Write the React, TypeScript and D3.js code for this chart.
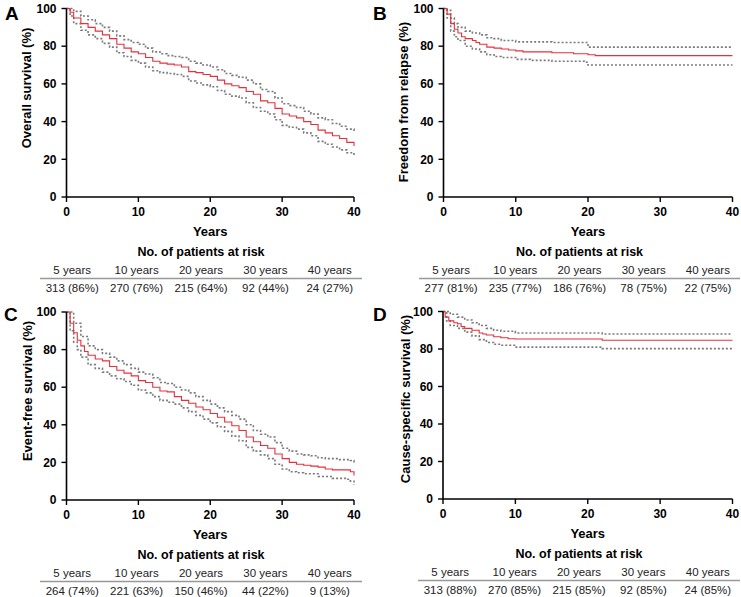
import React from "react";
import { scaleLinear, line, curveStepAfter } from "d3";

type Pt = [number, number];

const xTicks = [0, 10, 20, 30, 40];
const yTicks = [0, 20, 40, 60, 80, 100];
const riskYears = ["5 years", "10 years", "20 years", "30 years", "40 years"];

// overall survival: estimate + 95% CI
const overallEst: Pt[] = [
  [0, 100], [0.5, 98], [1, 95], [2, 92], [3, 90], [4, 88], [5, 86], [6, 84], [7, 81], [8, 79],
  [9, 77], [10, 76], [11, 74], [12, 72], [13, 71], [14, 70.5], [15, 70], [16, 69], [17, 66.5],
  [18, 66], [19, 65], [20, 64], [21, 62], [22, 60], [23, 59], [24, 58], [25, 56], [26, 54.5],
  [27, 51], [28, 50], [29, 47], [30, 44], [31, 43], [32, 42], [33, 40], [34, 38.5], [35, 35.5],
  [36, 34], [37, 32.5], [38, 31], [39, 29], [40, 27],
];
const overallUpper: Pt[] = [
  [0, 100], [1, 98.5], [2, 96], [3, 94], [4, 92], [5, 90], [6, 88], [7, 85.5], [8, 83.5], [9, 82],
  [10, 81], [11, 79], [12, 77], [13, 76], [14, 75], [15, 74.5], [16, 74], [17, 72], [18, 71],
  [19, 70], [20, 69], [21, 67.5], [22, 65.5], [23, 64.5], [24, 63.5], [25, 62], [26, 60], [27, 57],
  [28, 56], [29, 52.5], [30, 49.5], [31, 48.5], [32, 47.5], [33, 45.5], [34, 44], [35, 42],
  [36, 41], [37, 39], [38, 37.5], [39, 36], [40, 35],
];
const overallLower: Pt[] = [
  [0, 100], [0.5, 96], [1, 92], [2, 88.5], [3, 86], [4, 84], [5, 81.5], [6, 79.5], [7, 76.5],
  [8, 74.5], [9, 72.5], [10, 71], [11, 69], [12, 67], [13, 66], [14, 65.5], [15, 65], [16, 64],
  [17, 61.5], [18, 60.5], [19, 59.5], [20, 58.5], [21, 56.5], [22, 54.5], [23, 53.5], [24, 52.5],
  [25, 50], [26, 47.5], [27, 45.5], [28, 44], [29, 41], [30, 38], [31, 37], [32, 36], [33, 34],
  [34, 32.5], [35, 29.5], [36, 28], [37, 26.5], [38, 25], [39, 23.5], [40, 22],
];

// freedom from relapse
const relapseEst: Pt[] = [
  [0, 100], [0.5, 97], [1, 92], [1.5, 89], [2, 87], [2.5, 85], [3, 84], [4, 83], [4.5, 82],
  [5, 81], [6, 79.5], [7, 79], [8, 78.5], [9, 78], [10, 77.5], [11, 77], [15, 76.5], [18, 76],
  [20, 75.5], [21, 75], [40, 75],
];
const relapseUpper: Pt[] = [
  [0, 100], [0.5, 99], [1, 95], [1.5, 92], [2, 90], [3, 88], [4, 87], [5, 86], [6, 84.5],
  [7, 84], [8, 83], [10, 82.3], [15, 82], [19.5, 82], [20, 79.5], [40, 79.5],
];
const relapseLower: Pt[] = [
  [0, 100], [0.5, 95], [1, 88], [1.5, 85], [2, 83], [3, 80], [4, 78.5], [5, 77], [6, 75.5],
  [7, 74.5], [8, 74], [10, 73], [12, 72.5], [15, 72], [19.5, 71.5], [20, 70], [40, 70],
];

// event-free survival
const eventEst: Pt[] = [
  [0, 100], [0.5, 94], [1, 89], [1.5, 85], [2, 82], [2.5, 79], [3, 77], [4, 75], [5, 74],
  [6, 71], [7, 69], [8, 67.5], [9, 66], [10, 63.5], [11, 62.5], [12, 60], [13, 58], [14, 57.5],
  [15, 55], [16, 53], [17, 51.5], [18, 49.5], [19, 48], [20, 46], [21, 44], [22, 41.5],
  [23, 39.5], [24, 37], [25, 33.5], [26, 31], [27, 29], [28, 27.5], [29, 24.5], [30, 22],
  [31, 20], [32, 19], [33, 18.5], [34, 18], [35, 17.5], [36, 16.5], [37, 16], [39, 16],
  [39.5, 15], [40, 13],
];
const eventUpper: Pt[] = [
  [0, 100], [1, 94], [2, 87], [3, 82], [4, 80], [5, 78], [6, 76], [7, 74], [8, 72], [9, 70],
  [10, 68], [11, 67], [12, 65], [13, 62.5], [14, 62], [15, 60], [16, 58.5], [17, 57], [18, 55],
  [19, 53], [20, 51], [21, 49], [22, 47], [23, 45], [24, 43], [25, 40], [26, 37], [27, 35],
  [28, 33.5], [29, 30.5], [30, 27.5], [31, 26], [32, 24.5], [33, 24], [34, 23.5], [35, 22.5],
  [36, 22], [38, 21.5], [39.5, 21], [40, 20],
];
const eventLower: Pt[] = [
  [0, 100], [0.5, 90], [1, 84], [1.5, 80], [2, 76], [3, 72], [4, 70], [5, 68], [6, 66], [7, 64.5],
  [8, 63], [9, 61], [10, 58.5], [11, 57], [12, 55], [13, 53], [14, 52], [15, 51], [16, 49],
  [17, 47], [18, 45], [19, 43], [20, 41], [21, 39], [22, 36.5], [23, 34], [24, 31.5], [25, 28],
  [26, 26], [27, 24], [28, 22], [29, 19], [30, 16.5], [31, 15], [32, 14.5], [33, 14], [35, 12.5],
  [37, 11.5], [39, 11], [39.5, 10], [40, 8],
];

// cause-specific survival
const causeEst: Pt[] = [
  [0, 100], [0.3, 97], [0.8, 95], [1.5, 94], [2, 93.5], [2.5, 92], [3, 91], [4, 90], [5, 88.5],
  [5.5, 88], [6, 87.5], [7, 86.5], [8, 86], [9, 85.5], [10, 85.3], [22, 84.7], [40, 84.7],
];
const causeUpper: Pt[] = [
  [0, 100], [1, 98.5], [2, 97], [3, 95.5], [4, 94], [5, 92.5], [6, 91], [7, 90], [8, 89.5],
  [10, 88.5], [22, 88], [40, 88],
];
const causeLower: Pt[] = [
  [0, 100], [0.5, 95], [1, 92.5], [2, 91], [3, 89], [4, 87], [5, 85], [6, 83.5], [7, 82.5],
  [8, 82], [10, 81], [22, 80.2], [40, 80.2],
];

const overallRisk = ["313 (86%)", "270 (76%)", "215 (64%)", "92 (44%)", "24 (27%)"];
const relapseRisk = ["277 (81%)", "235 (77%)", "186 (76%)", "78 (75%)", "22 (75%)"];
const eventRisk = ["264 (74%)", "221 (63%)", "150 (46%)", "44 (22%)", "9 (13%)"];
const causeRisk = ["313 (88%)", "270 (85%)", "215 (85%)", "92 (85%)", "24 (85%)"];

const font = "'Liberation Sans', Arial, Helvetica, sans-serif";

interface PanelProps {
  letter: string;
  yLabel: string;
  est: Pt[];
  upper: Pt[];
  lower: Pt[];
  risk: string[];
  x0: number;
  x1: number;
  top: number;
  bottom: number;
  labelX: number;
  labelY: number;
  letterX: number;
  letterY: number;
  tableLeft: number;
  tableRight: number;
}

const Panel: React.FC<PanelProps> = ({
  letter, yLabel, est, upper, lower, risk,
  x0, x1, top, bottom, labelX, labelY, letterX, letterY, tableLeft, tableRight,
}) => {
  const xScale = scaleLinear().domain([0, 40]).range([x0, x1]);
  const yScale = scaleLinear().domain([0, 100]).range([bottom, top]);

  const path = line<Pt>()
    .x((d) => xScale(d[0]))
    .y((d) => yScale(d[1]))
    .curve(curveStepAfter);

  const colW = (tableRight - tableLeft) / riskYears.length;
  const midX = (x0 + x1) / 2;
  const tableMid = (tableLeft + tableRight) / 2;

  return (
    <g fontFamily={font}>
      <text x={letterX} y={letterY} fontSize={19} fontWeight="bold">{letter}</text>

      {/* confidence band first, estimate on top */}
      <path d={path(upper) ?? ""} fill="none" stroke="#7a7a7a" strokeWidth={1.6} strokeDasharray="2,2" />
      <path d={path(lower) ?? ""} fill="none" stroke="#7a7a7a" strokeWidth={1.6} strokeDasharray="2,2" />
      <path d={path(est) ?? ""} fill="none" stroke="#e6303c" strokeWidth={1.1} />

      {/* y axis */}
      <line x1={x0} x2={x0} y1={top} y2={bottom} stroke="#000" strokeWidth={1.6} />
      {yTicks.map((t) => (
        <g key={`y${t}`}>
          <line x1={x0 - 5} x2={x0} y1={yScale(t)} y2={yScale(t)} stroke="#000" strokeWidth={1.4} />
          <text x={x0 - 10} y={yScale(t)} dy="0.35em" textAnchor="end" fontSize={12} fontWeight="bold">{t}</text>
        </g>
      ))}
      <text
        transform={`translate(${labelX},${labelY}) rotate(-90)`}
        dy="0.35em"
        textAnchor="middle"
        fontSize={13}
        fontWeight="bold"
      >
        {yLabel}
      </text>

      {/* x axis */}
      <line x1={x0} x2={x1} y1={bottom} y2={bottom} stroke="#000" strokeWidth={1.6} />
      {xTicks.map((t) => (
        <g key={`x${t}`}>
          <line x1={xScale(t)} x2={xScale(t)} y1={bottom} y2={bottom + 5} stroke="#000" strokeWidth={1.4} />
          <text x={xScale(t)} y={bottom + 19} textAnchor="middle" fontSize={12} fontWeight="bold">{t}</text>
        </g>
      ))}
      <text x={midX} y={bottom + 39} textAnchor="middle" fontSize={13} fontWeight="bold">Years</text>

      {/* patients at risk */}
      <text x={tableMid} y={bottom + 58.5} textAnchor="middle" fontSize={12.5} fontWeight="bold">
        No. of patients at risk
      </text>
      {riskYears.map((lab, i) => (
        <text key={lab} x={tableLeft + colW * (i + 0.5)} y={bottom + 77} textAnchor="middle" fontSize={11.5} fill="#222">
          {lab}
        </text>
      ))}
      <line x1={tableLeft} x2={tableRight} y1={bottom + 81.5} y2={bottom + 81.5} stroke="#999" strokeWidth={1.4} />
      {risk.map((v, i) => (
        <text key={`r${i}`} x={tableLeft + colW * (i + 0.5)} y={bottom + 94.5} textAnchor="middle" fontSize={11.5} fill="#222">
          {v}
        </text>
      ))}
    </g>
  );
};

const App: React.FC = () => {
  return (
    <svg width={741} height={597} style={{ position: "absolute", left: 0, top: 0, background: "#fff" }}>
      <Panel letter="A" yLabel="Overall survival (%)" est={overallEst} upper={overallUpper} lower={overallLower}
        risk={overallRisk} x0={66.5} x1={354} top={8.5} bottom={197} labelX={26} labelY={88}
        letterX={5} letterY={20} tableLeft={40} tableRight={362} />
      <Panel letter="B" yLabel="Freedom from relapse (%)" est={relapseEst} upper={relapseUpper} lower={relapseLower}
        risk={relapseRisk} x0={443.5} x1={732.5} top={8.5} bottom={197} labelX={403} labelY={102}
        letterX={373} letterY={20} tableLeft={419} tableRight={740} />
      <Panel letter="C" yLabel="Event-free survival (%)" est={eventEst} upper={eventUpper} lower={eventLower}
        risk={eventRisk} x0={66.5} x1={354} top={312} bottom={500} labelX={27} labelY={391}
        letterX={4} letterY={321} tableLeft={40} tableRight={362} />
      <Panel letter="D" yLabel="Cause-specific survival (%)" est={causeEst} upper={causeUpper} lower={causeLower}
        risk={causeRisk} x0={443} x1={732.5} top={311.5} bottom={499} labelX={405} labelY={399}
        letterX={373} letterY={321} tableLeft={418} tableRight={740} />
    </svg>
  );
};

export default App;
